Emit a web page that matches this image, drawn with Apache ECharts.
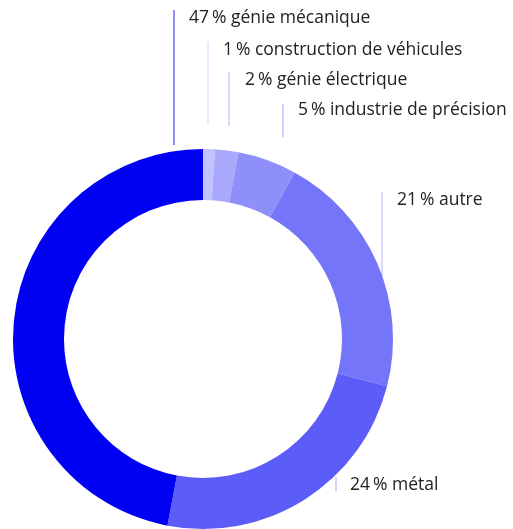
<!DOCTYPE html>
<html>
<head>
<meta charset="utf-8">
<script src="https://cdn.jsdelivr.net/npm/echarts@6/dist/echarts.min.js"></script>
<style>
  html, body { margin: 0; padding: 0; background: #fff; }
  #chart { width: 513px; height: 529px; }
</style>
</head>
<body>
<div id="chart"></div>
<script>
// shares, clockwise from 12 o'clock
const categories = ['construction de véhicules', 'génie électrique', 'industrie de précision', 'autre', 'métal', 'génie mécanique'];
const values = [1, 2, 5, 21, 24, 47];
const sliceColors = ['#c2c2fd', '#a9a9fb', '#8f8ffa', '#7575f9', '#5c5cf9', '#0000f2'];
const lineColors = ['#d2d2ff', '#babaff', '#a3a3ff', '#adadff', '#a6a6ff', '#6a6af2'];

// label anchor: text left x, text middle y, leader line x, top, bottom
const labelPos = [
    [223, 50, 208, 42, 125],
    [245, 80, 229, 72, 126],
    [298, 110, 283, 104, 137],
    [397, 200, 382, 192, 276],
    [350, 485, 336, 477, 491],
    [189, 18, 174, 10, 145]
];

const chart = echarts.init(document.getElementById('chart'));

const seriesData = categories.map(function(name, i){
    return {
        name: name,
        value: values[i],
        itemStyle: { color: sliceColors[i] },
        labelLine: { lineStyle: { color: lineColors[i], width: i === 5 ? 1.5 : 1 } }
    };
});

chart.setOption({
    animation: false,
    series: [{
        type: 'pie',
        center: [203, 339],
        radius: [139, 190],
        startAngle: 90,
        clockwise: true,
        avoidLabelOverlap: false,
        minShowLabelAngle: 0,
        itemStyle: { borderWidth: 0 },
        label: {
            show: true,
            position: 'outside',
            fontFamily: 'Open Sans',
            fontSize: 17.5,
            color: '#222',
            formatter: function(p){
                return p.value + '\u2009% ' + p.name;
            }
        },
        labelLine: { show: true, length: 5, length2: 5 },
        labelLayout: function(params){
            const p = labelPos[params.dataIndex];
            return {
                x: p[0],
                y: p[1],
                align: 'left',
                verticalAlign: 'middle',
                labelLinePoints: [[p[2], p[3]], [p[2], p[4]], [p[2], p[4]]]
            };
        },
        emphasis: { disabled: true },
        data: seriesData
    }]
});
</script>
</body>
</html>
